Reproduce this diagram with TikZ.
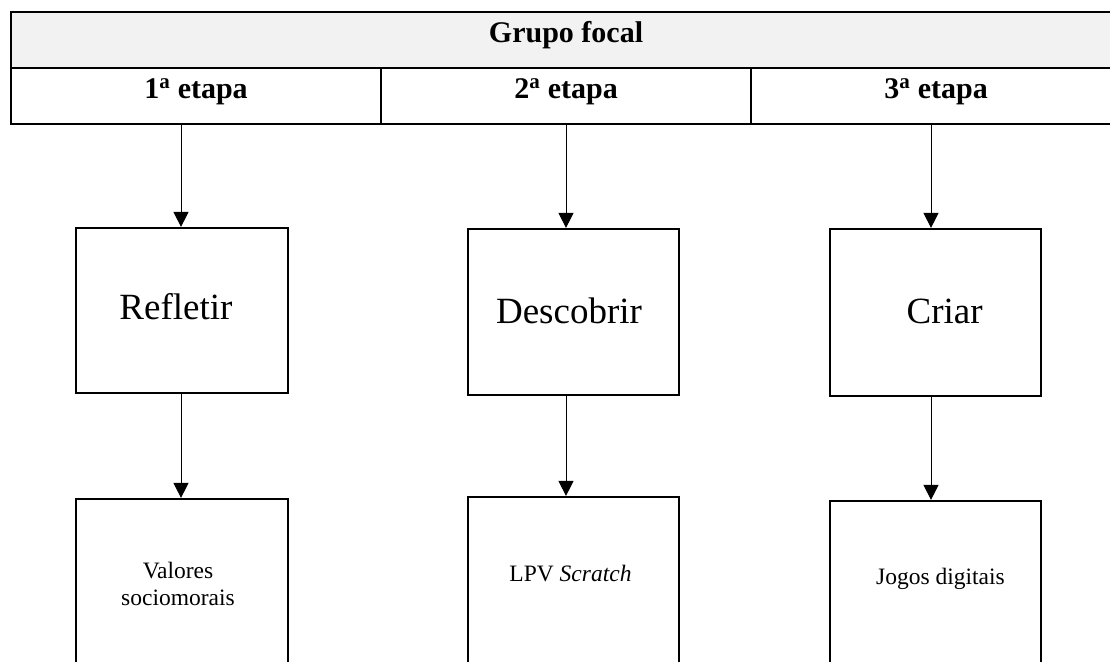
\documentclass[tikz,border=0pt]{standalone}
\usepackage{fontspec}
\setmainfont{Liberation Serif}
\usetikzlibrary{arrows.meta}
\begin{document}
\begin{tikzpicture}[x=1pt,y=-1pt,
  cell/.style={draw=black, line width=2.2pt, rectangle, inner sep=0pt},
  stepbox/.style={draw=black, line width=2.2pt, rectangle, inner sep=0pt, fill=white},
  arr/.style={draw=black, line width=1pt, -{Triangle[length=15pt,width=15pt]}},
  head/.style={font=\bfseries\fontsize{30}{36}\selectfont, anchor=base, inner sep=0pt},
  big/.style={font=\fontsize{37}{44}\selectfont, anchor=base, inner sep=0pt},
  small/.style={font=\fontsize{23.5}{27}\selectfont, anchor=base, inner sep=0pt},
]
\useasboundingbox (0,0) rectangle (1110,661);
\clip (0,0) rectangle (1110,661);

% header table
\node[cell, fill=gray!10, minimum width=1110pt, minimum height=56pt] (title) at (566,40) {};
\node[cell, minimum width=370pt, minimum height=56pt] (c1) at (196,96) {};
\node[cell, minimum width=370pt, minimum height=56pt] (c2) at (566,96) {};
\node[cell, minimum width=370pt, minimum height=56pt] (c3) at (936,96) {};
\node[head] (tg) at (566,42) {Grupo focal};
\node[head] (t1) at (196,98) {1\textsuperscript{a} etapa};
\node[head] (t2) at (566,98) {2\textsuperscript{a} etapa};
\node[head] (t3) at (936,98) {3\textsuperscript{a} etapa};

% stage boxes
\node[stepbox, minimum width=212pt, minimum height=165pt] (r1) at (182,310.5) {};
\node[stepbox, minimum width=211pt, minimum height=166pt] (r2) at (573.5,312) {};
\node[stepbox, minimum width=211pt, minimum height=167pt] (r3) at (935.5,312.5) {};
\node[big] (l1) at (176,319) {Refletir};
\node[big] (l2) at (569,323) {Descobrir};
\node[big] (l3) at (944.7,323) {Criar};

% content boxes (run past the lower edge)
\node[stepbox, minimum width=212pt, minimum height=201pt] (v1) at (182,599.5) {};
\node[stepbox, minimum width=211pt, minimum height=203pt] (v2) at (573.5,598.5) {};
\node[stepbox, minimum width=211pt, minimum height=199pt] (v3) at (935.5,600.5) {};
\node[small] (s1a) at (178,578) {Valores};
\node[small] (s1b) at (178,605) {sociomorais};
\node[small] (s2) at (570.5,581) {LPV \textit{Scratch}};
\node[small] (s3) at (940.5,584) {Jogos digitais};

% connectors
\coordinate (a1) at (181,124);
\coordinate (a2) at (566,124);
\coordinate (a3) at (931,124);
\draw[arr] (a1) -- (a1 |- r1.north);
\draw[arr] (a2) -- (a2 |- r2.north);
\draw[arr] (a3) -- (a3 |- r3.north);
\draw[arr] (r1.south -| a1) -- (a1 |- v1.north);
\draw[arr] (r2.south -| a2) -- (a2 |- v2.north);
\draw[arr] (r3.south -| a3) -- (a3 |- v3.north);
\end{tikzpicture}
\end{document}
